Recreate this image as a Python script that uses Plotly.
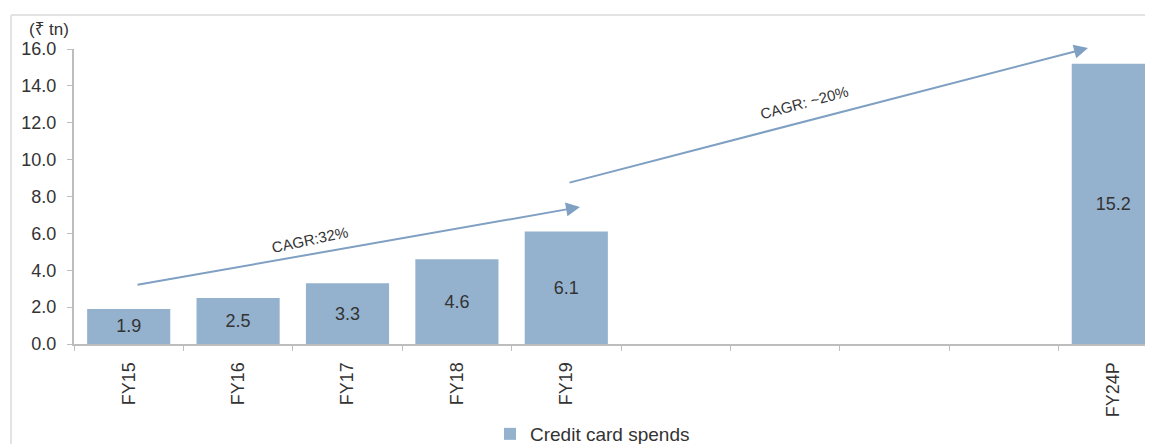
import plotly.graph_objects as go

# ---- data ----
categories = ["FY15", "FY16", "FY17", "FY18", "FY19", " ", "  ", "   ", "    ", "FY24P"]
spends = [1.9, 2.5, 3.3, 4.6, 6.1, None, None, None, None, 15.2]
labels = ["1.9", "2.5", "3.3", "4.6", "6.1", "", "", "", "", "15.2"]
y_ticks = [0, 2, 4, 6, 8, 10, 12, 14, 16]
y_ticktext = ["0.0", "2.0", "4.0", "6.0", "8.0", "10.0", "12.0", "14.0", "16.0"]
series_name = "Credit card spends"
unit_label = "(₹ tn)"
cagr1_text = "CAGR:32%"
cagr2_text = "CAGR: ~20%"

FONT = "Liberation Sans, Arial, Noto Sans, DejaVu Sans, sans-serif"
BAR = "#94B2CE"
ARROW = "#7FA0C3"
AXIS = "#BDBDBD"
TXT = "#333333"

OFF = 8                      # page body margin
W, H = 1153 - OFF, 444 - OFF
L, R, T, B = 66, 0, 41, 100
pw = W - L - R
ph = H - T - B
cat_w = 109.4
x_hi = -0.5 + pw / cat_w

fig = go.Figure()
fig.add_trace(go.Bar(
    x=categories, y=spends, name=series_name,
    marker=dict(color=BAR, line=dict(width=0)),
    width=0.76,
    text=labels, textposition="inside", insidetextanchor="middle",
    textangle=0, textfont=dict(family=FONT, size=18, color=TXT),
    showlegend=True,
))

# pixel (window) estimates -> data / paper coordinates
def xd(px):
    return (px - OFF - L) / cat_w - 0.5

def yd(py):
    return (H - B - (py - OFF)) / (ph / 16.0)

def xp(px):
    return (px - OFF - L) / pw

def yp(py):
    return (H - B - (py - OFF)) / ph

# arrows
fig.add_annotation(x=xd(580), y=yd(207), ax=xd(136), ay=yd(285),
                   xref="x", yref="y", axref="x", ayref="y",
                   showarrow=True, arrowhead=2, arrowsize=1.4, arrowwidth=2,
                   arrowcolor=ARROW, text="")
fig.add_annotation(x=xd(1088), y=yd(48), ax=xd(568), ay=yd(183),
                   xref="x", yref="y", axref="x", ayref="y",
                   showarrow=True, arrowhead=2, arrowsize=1.4, arrowwidth=2,
                   arrowcolor=ARROW, text="")
fig.add_annotation(x=xd(310), y=yd(239), xref="x", yref="y", text=cagr1_text,
                   showarrow=False, textangle=-12,
                   font=dict(family=FONT, size=15, color=TXT))
fig.add_annotation(x=xd(804), y=yd(102), xref="x", yref="y", text=cagr2_text,
                   showarrow=False, textangle=-15,
                   font=dict(family=FONT, size=15, color=TXT))

# unit label
fig.add_annotation(x=xp(27), y=yp(30), xref="paper", yref="paper",
                   xanchor="left", yanchor="middle",
                   text=unit_label, showarrow=False,
                   font=dict(family=FONT, size=17, color=TXT))

# outer frame (only the top and left edges are visible)
fig.add_shape(type="line", xref="paper", yref="paper",
              x0=xp(11), x1=xp(1170), y0=yp(15), y1=yp(15),
              line=dict(color="#E3E3E3", width=2), layer="below")
fig.add_shape(type="line", xref="paper", yref="paper",
              x0=xp(11), x1=xp(11), y0=yp(15), y1=yp(460),
              line=dict(color="#E3E3E3", width=2), layer="below")

fig.update_layout(
    width=W, height=H,
    margin=dict(l=L, r=R, t=T, b=B, pad=0, autoexpand=False),
    paper_bgcolor="white", plot_bgcolor="white",
    font=dict(family=FONT, size=18, color=TXT),
    legend=dict(orientation="h", xref="container", yref="container",
                x=(490 - OFF) / W, xanchor="left",
                y=(H - (434 - OFF)) / H, yanchor="middle",
                font=dict(family=FONT, size=19, color=TXT),
                itemwidth=30, bgcolor="rgba(0,0,0,0)"),
    xaxis=dict(type="category", range=[-0.5, x_hi], tickangle=-90,
               automargin=False,
               showline=True, linecolor=AXIS, linewidth=2,
               ticks="outside", ticklen=5, tickcolor=AXIS, tickwidth=1,
               tickson="boundaries", ticklabelstandoff=9,
               showgrid=False, zeroline=False,
               tickfont=dict(family=FONT, size=18, color=TXT)),
    yaxis=dict(range=[0, 16], tickvals=y_ticks, ticktext=y_ticktext,
               automargin=False,
               showline=True, linecolor=AXIS, linewidth=2,
               ticks="outside", ticklen=5, tickcolor=AXIS, tickwidth=1,
               ticklabelstandoff=7,
               showgrid=False, zeroline=False,
               tickfont=dict(family=FONT, size=18, color=TXT)),
)

fig.write_html("out.html")
